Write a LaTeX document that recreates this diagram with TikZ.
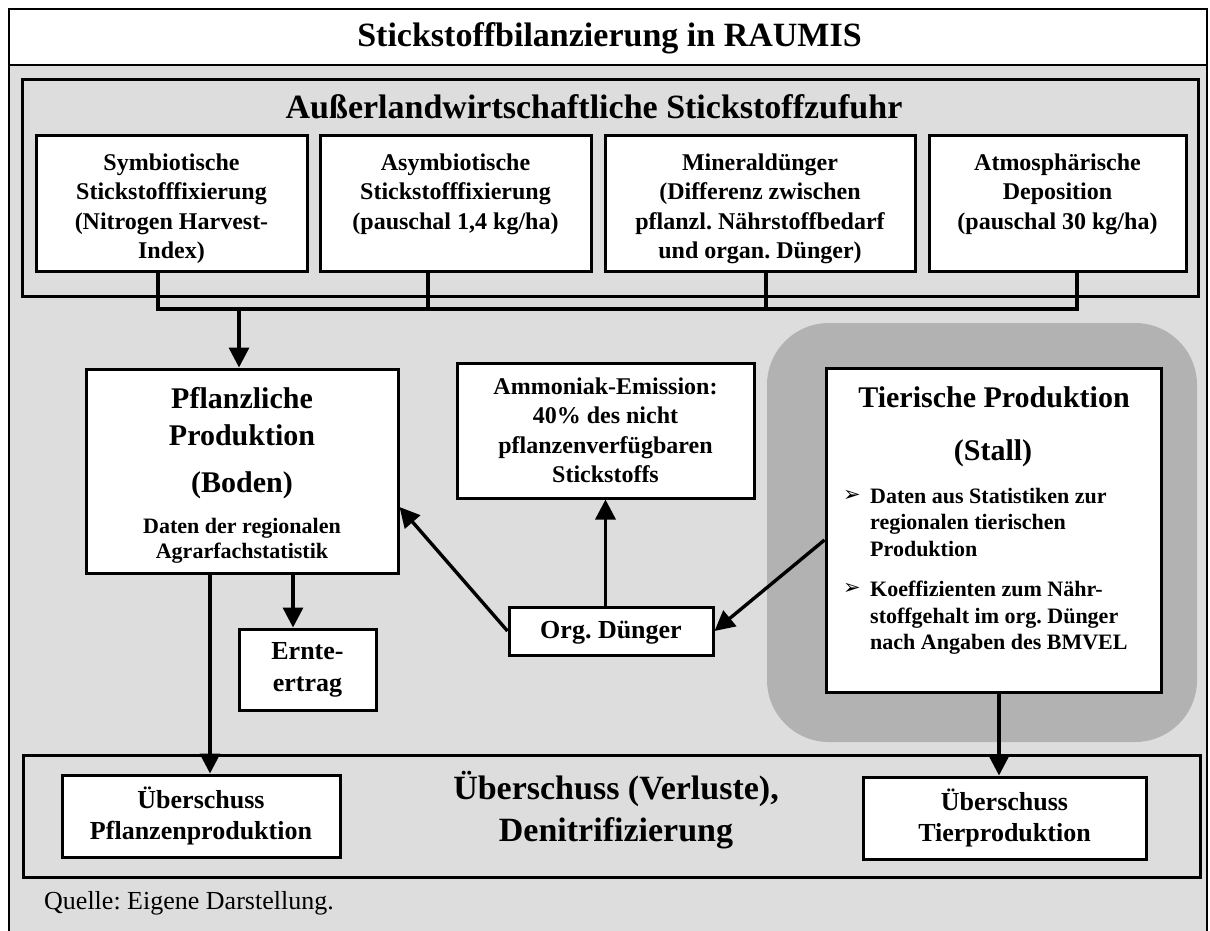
\documentclass[tikz,border=0pt]{standalone}
\usepackage{fontspec}
\setmainfont{Liberation Serif}
\newfontfamily\djv{DejaVu Sans}
\usetikzlibrary{arrows.meta,calc}
\definecolor{bggray}{RGB}{221,221,221}
\definecolor{stallgray}{RGB}{178,178,178}
\newcommand\fTitle{\fontsize{34}{42}\selectfont\bfseries}
\newcommand\fBox{\fontsize{24}{29.5}\selectfont\bfseries}
\newcommand\fHead{\fontsize{30}{37}\selectfont\bfseries}
\newcommand\fData{\fontsize{22}{25.5}\selectfont\bfseries}
\newcommand\fBul{\fontsize{22}{26.5}\selectfont\bfseries}
\newcommand\fUeb{\fontsize{26}{31}\selectfont\bfseries}
\newcommand\fErn{\fontsize{26}{32}\selectfont\bfseries}
\newcommand\fQl{\fontsize{26}{31}\selectfont}
\frenchspacing
\begin{document}
\frenchspacing
\begin{tikzpicture}[x=1pt,y=-1pt,
  box/.style={draw=black,line width=3pt,fill=white,inner sep=0pt},
  frm/.style={draw=black,line width=3pt,inner sep=0pt},
  txt/.style={inner sep=0pt,align=center},
  arr/.style={line width=3.4pt,-{Triangle[length=20pt,width=20pt]}},
  ln/.style={line width=3.4pt},
  barln/.style={line width=4.5pt,line cap=rect},
  bul/.style={inner sep=0pt,font={\djv\fontsize{21}{21}\selectfont}}]
\clip (0,0) rectangle (1210,931);
% background
\fill[bggray] (9,9) rectangle (1207,945);
\draw[line width=2.5pt] (9,945) -- (9,9) -- (1207,9) -- (1207,945);
\node[box,line width=2.5pt,minimum width=1198pt,minimum height=56pt] (band) at (608,37) {};
\node[txt,font=\fTitle] (title) at (609.5,38) {Stickstoffbilanzierung in RAUMIS};
% external supply frame
\node[frm,minimum width=1176pt,minimum height=216pt] (ext) at (610,188) {};
\node[txt,font=\fTitle] (exttitle) at (594,107) {Außerlandwirtschaftliche Stickstoffzufuhr};
\node[box,minimum width=271pt,minimum height=135pt] (b1) at (171.5,203.5) {};
\node[box,minimum width=271pt,minimum height=135pt] (b2) at (455.5,203.5) {};
\node[box,minimum width=310pt,minimum height=135pt] (b3) at (760,203.5) {};
\node[box,minimum width=257pt,minimum height=135pt] (b4) at (1057.5,203.5) {};
\node[txt,font=\fBox,anchor=north] (b1t) at ([yshift=-19pt]b1.north) {Symbiotische\\Stickstofffixierung\\(Nitrogen Harvest-\\Index)};
\node[txt,font=\fBox,anchor=north] (b2t) at ([yshift=-19pt]b2.north) {Asymbiotische\\Stickstofffixierung\\(pauschal 1,4 kg/ha)};
\node[txt,font=\fBox,anchor=north] (b3t) at ([yshift=-19pt]b3.north) {Mineraldünger\\(Differenz zwischen\\pflanzl. Nährstoffbedarf\\und organ. Dünger)};
\node[txt,font=\fBox,anchor=north] (b4t) at ([yshift=-19pt]b4.north) {Atmosphärische\\Deposition\\(pauschal 30 kg/ha)};
% stall region
\node[fill=stallgray,rounded corners=62pt,minimum width=430pt,minimum height=419pt,inner sep=0pt] (stall) at (982,532.5) {};
% plant production
\node[box,minimum width=312pt,minimum height=204pt] (pf) at (242,471) {};
\node[txt,font=\fHead] (pft) at (242,417) {Pflanzliche\\Produktion};
\node[txt,font=\fHead] (pfb) at (242,485) {(Boden)};
\node[txt,font=\fData] (pfd) at (242,541) {Daten der regionalen\\Agrarfachstatistik};
% ammonia
\node[box,font=\fBox,align=center,minimum width=297pt,minimum height=135pt] (amm) at (605.5,430.5) {Ammoniak-Emission:\\40\% des nicht\\pflanzenverfügbaren\\Stickstoffs};
% animal production
\node[box,minimum width=335pt,minimum height=324pt] (tp) at (993.5,530) {};
\node[txt,font=\fHead] (tpt) at (994,397) {Tierische Produktion};
\node[txt,font=\fHead] (tps) at (993,453) {(Stall)};
\node[bul] (bu1) at (852,496) {➢};
\node[bul] (bu2) at (852,589) {➢};
\node[txt,font=\fBul,align=left,anchor=north west] (bt1) at (870,488) {Daten aus Statistiken zur\\regionalen tierischen\\Produktion};
\node[txt,font=\fBul,align=left,anchor=north west] (bt2) at (870,581) {Koeffizienten zum Nähr-\\stoffgehalt im org. Dünger\\nach Angaben des BMVEL};
% org fertiliser, harvest
\node[box,font=\fUeb,minimum width=204pt,minimum height=48pt,text depth=2pt] (org) at (611,631) {Org. Dünger};
\node[box,font=\fErn,align=center,minimum width=137pt,minimum height=81pt] (ernte) at (307.5,669.5) {Ernte-\\ertrag};
% surplus frame
\node[frm,minimum width=1177pt,minimum height=122pt] (surp) at (611.5,816) {};
\node[txt,font=\fTitle] (surpt) at (616,810) {Überschuss (Verluste),\\Denitrifizierung};
\node[box,font=\fUeb,align=center,minimum width=278pt,minimum height=82pt] (up) at (201,816) {Überschuss\\Pflanzenproduktion};
\node[box,font=\fUeb,align=center,minimum width=283pt,minimum height=82pt] (ut) at (1004.5,818) {Überschuss\\Tierproduktion};
% source
\node[txt,font=\fQl,anchor=west] (quelle) at (44,903) {Quelle: Eigene Darstellung.};
% connectors top
\coordinate (j1) at (158,309);
\coordinate (j2) at (428,309);
\coordinate (j3) at (766,309);
\coordinate (j4) at (1077,309);
\coordinate (jp) at (239,309);
\draw[ln] (j1 |- b1.south) -- (j1);
\draw[ln] (j2 |- b2.south) -- (j2);
\draw[ln] (j3 |- b3.south) -- (j3);
\draw[ln] (j4 |- b4.south) -- (j4);
\draw[barln] (j1) -- (j4);
\draw[arr] (jp) -- (jp |- pf.north);
% other connectors
\draw[arr] (org.west) -- ([yshift=-36pt]pf.east);
\draw[arr] (amm.south |- org.north) -- (amm.south);
\draw[arr] ([yshift=-10pt]tp.west) -- (org.east);
\coordinate (ex) at ([xshift=-14.5pt]ernte.north);
\draw[arr] (ex |- pf.south) -- (ex);
\coordinate (upx) at ([xshift=9pt]up.north);
\draw[arr] (upx |- pf.south) -- (upx);
\coordinate (utx) at ([xshift=-5.5pt]ut.north);
\draw[arr] (utx |- tp.south) -- (utx);
\end{tikzpicture}
\end{document}
